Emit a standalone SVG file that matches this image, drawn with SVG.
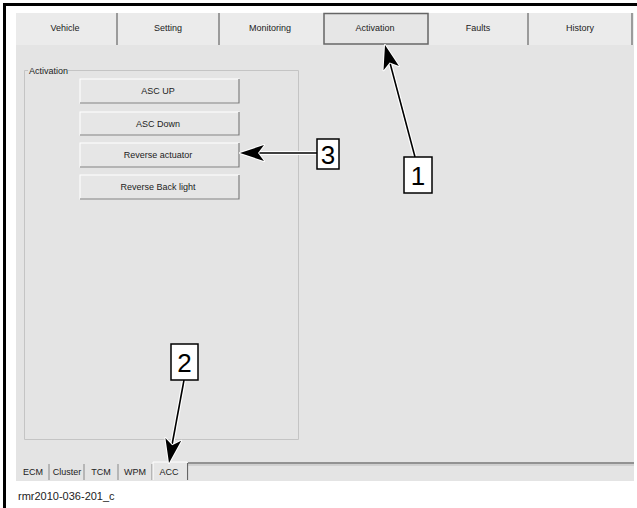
<svg xmlns="http://www.w3.org/2000/svg" width="637" height="508" viewBox="0 0 637 508">
<defs>
<style>
.t{font-family:"Liberation Sans",Arial,sans-serif;font-size:9px;fill:#222;text-anchor:middle}
.btn{fill:#e6e6e6;stroke:#fff;stroke-width:1}
.sh{fill:none;stroke:#777;stroke-width:1.2}
.sep{stroke:#666;stroke-width:1.2}
.num{font-family:"Liberation Sans",Arial,sans-serif;font-size:26px;fill:#000;text-anchor:middle}
.box{fill:#fff;stroke:#000;stroke-width:1.5}
.ln{stroke:#000;stroke-width:1.6;fill:none}
.halo{stroke:#fff;stroke-width:4;fill:none}
.head{fill:#000;stroke:#fff;stroke-width:2;stroke-linejoin:round;paint-order:stroke}
</style>
</defs>
<rect x="0" y="0" width="637" height="508" fill="#fff"/>
<rect x="16" y="13" width="618" height="468" fill="#e4e4e4"/>
<rect x="16" y="13" width="618" height="32" fill="#ebebeb"/>
<rect x="3" y="3" width="634" height="3" fill="#000"/>
<rect x="3" y="3" width="3" height="505" fill="#000"/>
<g id="tabs">
<line class="sep" x1="117" y1="13" x2="117" y2="45"/>
<line class="sep" x1="219" y1="13" x2="219" y2="45"/>
<line class="sep" x1="528" y1="13" x2="528" y2="45"/>
<line class="sep" x1="632" y1="13" x2="632" y2="45"/>
<rect x="324" y="13.5" width="104" height="30.5" fill="#e6e6e6" stroke="#666" stroke-width="1.5"/>
<text class="t" x="65" y="31">Vehicle</text>
<text class="t" x="168" y="31">Setting</text>
<text class="t" x="270" y="31">Monitoring</text>
<text class="t" x="375" y="31">Activation</text>
<text class="t" x="478" y="31">Faults</text>
<text class="t" x="580" y="31">History</text>
</g>
<g id="groupbox">
<path d="M28,70.5 H24.5 V439.5 H298.5 V70.5 H68" fill="none" stroke="#c4c4c4" stroke-width="1"/>
<text class="t" x="29" y="74" style="text-anchor:start">Activation</text>
</g>
<g id="btn-ascup">
<rect class="btn" x="80" y="79" width="159" height="24"/>
<path class="sh" d="M80,103 H239 V79"/>
<text class="t" x="158" y="94">ASC UP</text>
</g>
<g id="btn-ascdown">
<rect class="btn" x="80" y="112" width="159" height="23"/>
<path class="sh" d="M80,135 H239 V112"/>
<text class="t" x="158" y="127">ASC Down</text>
</g>
<g id="btn-revact">
<rect class="btn" x="80" y="143" width="159" height="24"/>
<path class="sh" d="M80,167 H239 V143"/>
<text class="t" x="158" y="158">Reverse actuator</text>
</g>
<g id="btn-revback">
<rect class="btn" x="80" y="175" width="159" height="24"/>
<path class="sh" d="M80,199 H239 V175"/>
<text class="t" x="158" y="190">Reverse Back light</text>
</g>
<g id="bottom-tabs">
<path d="M188,463 H634" stroke="#777" stroke-width="1.5"/>
<path d="M188,465 H634" stroke="#bbb" stroke-width="1"/>
<line x1="49" y1="464" x2="49" y2="480" stroke="#888"/>
<line x1="84" y1="464" x2="84" y2="480" stroke="#888"/>
<line x1="118" y1="464" x2="118" y2="480" stroke="#888"/>
<line x1="152" y1="464" x2="152" y2="480" stroke="#888"/>
<path d="M153,480 V462 H187 V480" fill="#e6e6e6" stroke="#fff"/>
<line x1="187.5" y1="463" x2="187.5" y2="480" stroke="#666" stroke-width="1.2"/>
<text class="t" x="33" y="475">ECM</text>
<text class="t" x="67" y="475">Cluster</text>
<text class="t" x="101" y="475">TCM</text>
<text class="t" x="135" y="475">WPM</text>
<text class="t" x="169" y="475">ACC</text>
</g>
<g id="connectors">
<line class="halo" x1="317" y1="153" x2="256" y2="153"/>
<line class="ln" x1="317" y1="153" x2="256" y2="153"/>
<path class="head" d="M240,153 L264,145 L258,153 L264,161 Z"/>
<line class="halo" x1="415" y1="157" x2="390" y2="63"/>
<line class="ln" x1="415" y1="157" x2="390" y2="63"/>
<path class="head" d="M385,45 L398.9,66.1 L389.7,62.4 L383.5,70.3 Z"/>
<line class="halo" x1="184" y1="380" x2="172" y2="445"/>
<line class="ln" x1="184" y1="380" x2="172" y2="445"/>
<path class="head" d="M169,463 L181.2,440.8 L172.2,445.3 L165.4,438 Z"/>
</g>
<g id="label-1">
<rect class="box" x="404" y="157" width="28" height="36"/>
<text class="num" x="418" y="185">1</text>
</g>
<g id="label-2">
<rect class="box" x="171" y="344" width="27" height="36"/>
<text class="num" x="184.5" y="372">2</text>
</g>
<g id="label-3">
<rect class="box" x="317" y="139" width="22" height="30"/>
<text class="num" x="328" y="164">3</text>
</g>
<text x="18" y="500" font-family="'Liberation Sans',Arial,sans-serif" font-size="11" fill="#222">rmr2010-036-201_c</text>
</svg>
